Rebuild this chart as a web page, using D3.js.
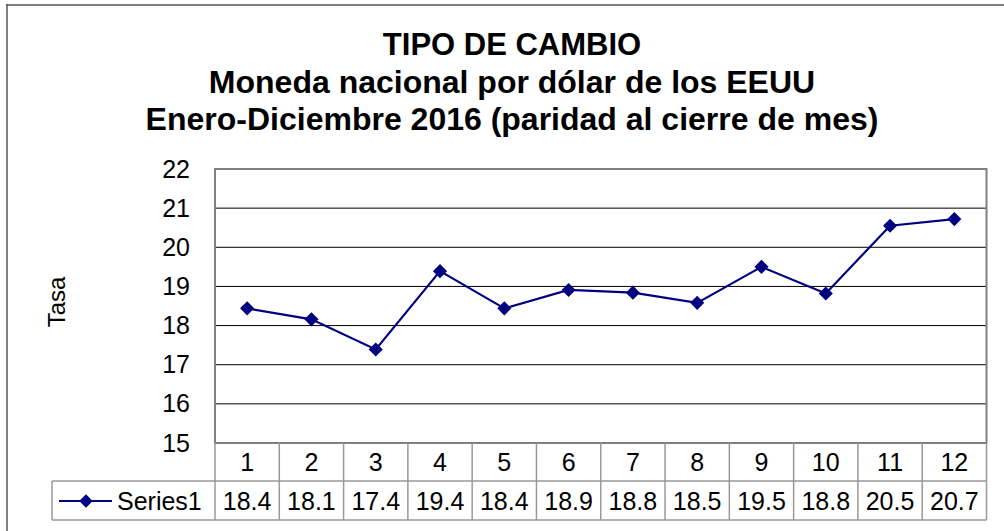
<!DOCTYPE html>
<html>
<head>
<meta charset="utf-8">
<script src="https://cdn.jsdelivr.net/npm/d3@7"></script>
<style>
  html, body { margin: 0; padding: 0; background: #fff; }
  svg { display: block; }
  text { font-family: "Liberation Sans", Arial, sans-serif; fill: #000; }
</style>
</head>
<body>
<svg id="chart" width="1004" height="531"></svg>
<script>
const titleLines = ["TIPO DE CAMBIO", "Moneda nacional por dólar de los EEUU", "Enero-Diciembre 2016 (paridad al cierre de mes)"];
const categories = ["1","2","3","4","5","6","7","8","9","10","11","12"];
const values = [18.44, 18.16, 17.39, 19.39, 18.44, 18.91, 18.84, 18.58, 19.50, 18.82, 20.55, 20.72];
const tableLabels = ["18.4","18.1","17.4","19.4","18.4","18.9","18.8","18.5","19.5","18.8","20.5","20.7"];
const yTicks = [15,16,17,18,19,20,21,22];
const seriesName = "Series1";
const yTitle = "Tasa";

(function () {
const svg = d3.select("#chart");
const navy = "#000080";
const FS = 25;

// outer chart border (left and top only visible)
svg.append("line").attr("x1", 7).attr("x2", 7).attr("y1", 4).attr("y2", 531)
  .attr("stroke", "#808080").attr("stroke-width", 2);
svg.append("line").attr("x1", 6).attr("x2", 1004).attr("y1", 5).attr("y2", 5)
  .attr("stroke", "#555").attr("stroke-width", 1.5);

// titles
const titleY = [55, 93, 130];
const titleFS = [31, 32, 32];
titleLines.forEach((t, i) => {
  svg.append("text").attr("x", 512).attr("y", titleY[i])
    .attr("text-anchor", "middle").attr("font-size", titleFS[i]).attr("font-weight", "bold")
    .text(t);
});

const pL = 215, pR = 986.5, pT = 169, pB = 443;
const x = d3.scaleBand().domain(categories).range([pL, pR]);
const y = d3.scaleLinear().domain([15, 22]).range([pB, pT]);
const cx = (i) => x(categories[i]) + x.bandwidth() / 2;

// gridlines
svg.append("g").selectAll("line").data(yTicks.filter(v => v > 15 && v < 22)).join("line")
  .attr("x1", pL).attr("x2", pR)
  .attr("y1", d => y(d)).attr("y2", d => y(d))
  .attr("stroke", "#000").attr("stroke-width", 1);

// plot area border
svg.append("rect").attr("x", pL).attr("y", pT).attr("width", pR - pL).attr("height", pB - pT)
  .attr("fill", "none").attr("stroke", "#808080").attr("stroke-width", 2);

// y axis labels
const yAxis = d3.axisLeft(y).tickValues(yTicks).tickFormat(d3.format("d")).tickSize(0).tickPadding(25);
const yg = svg.append("g").attr("transform", `translate(${pL},0)`).call(yAxis);
yg.select(".domain").remove();
yg.selectAll("text").attr("font-size", FS).attr("font-family", "Liberation Sans, Arial, sans-serif").attr("fill", "#000");

// y title
svg.append("text").attr("transform", "translate(65,302) rotate(-90)")
  .attr("text-anchor", "middle").attr("font-size", 24).text(yTitle);

// line
const line = d3.line().x((d, i) => cx(i)).y(d => y(d));
svg.append("path").datum(values).attr("d", line)
  .attr("fill", "none").attr("stroke", navy).attr("stroke-width", 2.2);

const sq = d3.symbol().type(d3.symbolSquare).size(100);
svg.append("g").selectAll("path").data(values).join("path")
  .attr("d", sq)
  .attr("transform", (d, i) => `translate(${cx(i)},${y(d)}) rotate(45)`)
  .attr("fill", navy);

// data table
const rowTop = pB, rowMid = 481, rowBot = 520, legLeft = 52;
const tbl = svg.append("g");
const gray = "#999";
tbl.append("line").attr("x1", legLeft).attr("x2", pR).attr("y1", rowMid).attr("y2", rowMid).attr("stroke", gray).attr("stroke-width", 1.5);
tbl.append("line").attr("x1", legLeft).attr("x2", pR).attr("y1", rowBot).attr("y2", rowBot).attr("stroke", gray).attr("stroke-width", 1.5);
tbl.append("line").attr("x1", legLeft).attr("x2", legLeft).attr("y1", rowMid).attr("y2", rowBot).attr("stroke", gray).attr("stroke-width", 1.5);
const vx = categories.map(c => x(c)).concat([pR]);
tbl.selectAll("line.v").data(vx).join("line").attr("class", "v")
  .attr("x1", d => d).attr("x2", d => d).attr("y1", rowTop).attr("y2", rowBot)
  .attr("stroke", gray).attr("stroke-width", 1.5);

tbl.selectAll("text.cat").data(categories).join("text").attr("class", "cat")
  .attr("x", d => x(d) + x.bandwidth() / 2).attr("y", 471)
  .attr("text-anchor", "middle").attr("font-size", FS).text(d => d);
tbl.selectAll("text.val").data(tableLabels).join("text").attr("class", "val")
  .attr("x", (d, i) => cx(i)).attr("y", 510)
  .attr("text-anchor", "middle").attr("font-size", FS).text(d => d);

// legend key
tbl.append("line").attr("x1", 59).attr("x2", 112).attr("y1", 501).attr("y2", 501)
  .attr("stroke", navy).attr("stroke-width", 2.2);
tbl.append("path").attr("d", d3.symbol().type(d3.symbolSquare).size(90))
  .attr("transform", "translate(86,501) rotate(45)").attr("fill", navy);
tbl.append("text").attr("x", 117).attr("y", 510).attr("font-size", FS).text(seriesName);
})();
</script>
</body>
</html>
